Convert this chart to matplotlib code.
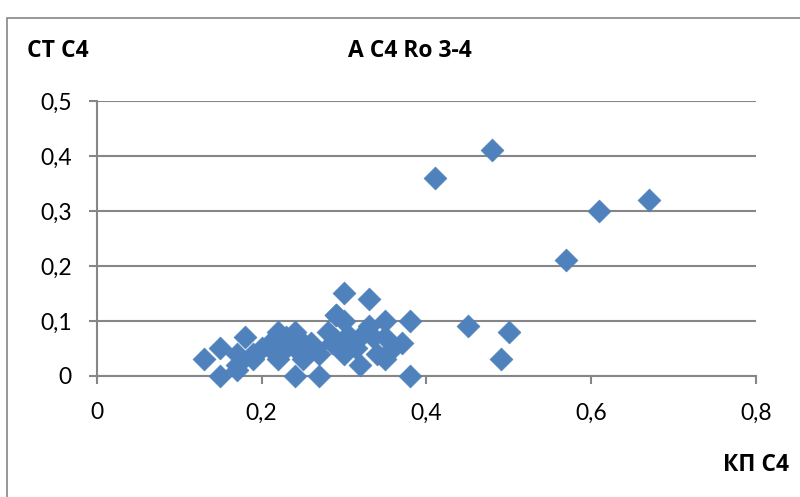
import numpy as np
import matplotlib.pyplot as plt
from matplotlib.patches import Rectangle

# КП С4 (x) vs СТ С4 (y)
kp_c4 = [0.13, 0.15, 0.15, 0.18, 0.17, 0.17, 0.17, 0.19, 0.19, 0.21,
         0.22, 0.24, 0.21, 0.23, 0.22, 0.24, 0.255, 0.265, 0.28, 0.24,
         0.27, 0.25, 0.27, 0.29, 0.30, 0.33, 0.29, 0.30, 0.33, 0.35,
         0.38, 0.305, 0.29, 0.32, 0.335, 0.35, 0.37, 0.30, 0.315, 0.34,
         0.36, 0.32, 0.35, 0.38, 0.285, 0.20, 0.26, 0.31, 0.23, 0.25,
         0.41, 0.48, 0.61, 0.67, 0.57, 0.45, 0.50, 0.49]
st_c4 = [0.03, 0.05, 0.0, 0.07, 0.02, 0.04, 0.01, 0.04, 0.03, 0.06,
         0.08, 0.08, 0.05, 0.05, 0.03, 0.05, 0.05, 0.05, 0.08, 0.0,
         0.0, 0.03, 0.04, 0.11, 0.15, 0.14, 0.11, 0.10, 0.09, 0.10,
         0.10, 0.075, 0.065, 0.07, 0.07, 0.07, 0.06, 0.04, 0.05, 0.04,
         0.05, 0.02, 0.03, 0.0, 0.06, 0.05, 0.06, 0.06, 0.07, 0.06,
         0.36, 0.41, 0.30, 0.32, 0.21, 0.09, 0.08, 0.03]

x_ticks = [0, 0.2, 0.4, 0.6, 0.8]
y_ticks = [0, 0.1, 0.2, 0.3, 0.4, 0.5]

plt.rcParams['font.family'] = ['Lato', 'DejaVu Sans']

fig = plt.figure(figsize=(8, 4.97), dpi=100)
ax = fig.add_axes([0.121, 0.2435, 0.824, 0.5535])

gray = '#868686'
ax.scatter(kp_c4, st_c4, marker='D', s=135, color='#4F81BD',
           edgecolors='#4F81BD', linewidths=0.5, zorder=3, clip_on=False)

ax.set_xlim(0, 0.8)
ax.set_ylim(0, 0.5)
ax.set_xticks(x_ticks)
ax.set_yticks(y_ticks)
ax.set_xticklabels([('%g' % v).replace('.', ',') for v in x_ticks])
ax.set_yticklabels([('%g' % v).replace('.', ',') for v in y_ticks])
ax.yaxis.grid(True, color=gray, linewidth=1.5)
ax.set_axisbelow(True)

for s in ['top', 'right']:
    ax.spines[s].set_visible(False)
for s in ['left', 'bottom']:
    ax.spines[s].set_color(gray)
    ax.spines[s].set_linewidth(1.5)
ax.tick_params(axis='both', colors=gray, length=6, width=1.5,
               labelsize=16.5, labelcolor='#000000')
ax.tick_params(axis='x', pad=13)
ax.tick_params(axis='y', pad=12)

bold = dict(fontsize=16.5, fontweight='bold', ha='center', va='center',
            family=['Open Sans', 'DejaVu Sans'])
fig.text(58 / 800, 0.897, 'СТ С4', **bold)
fig.text(410 / 800, 0.897, 'А С4 Ro 3-4', **bold)
fig.text(756 / 800, 0.064, 'КП С4', **bold)

# chart border
fig.patches.append(Rectangle((7 / 800, -0.1), 1.2, 1 - 18 / 497 + 0.1,
                             transform=fig.transFigure, fill=False,
                             edgecolor=gray, linewidth=1.2))

fig.savefig('out.png', dpi=100)
